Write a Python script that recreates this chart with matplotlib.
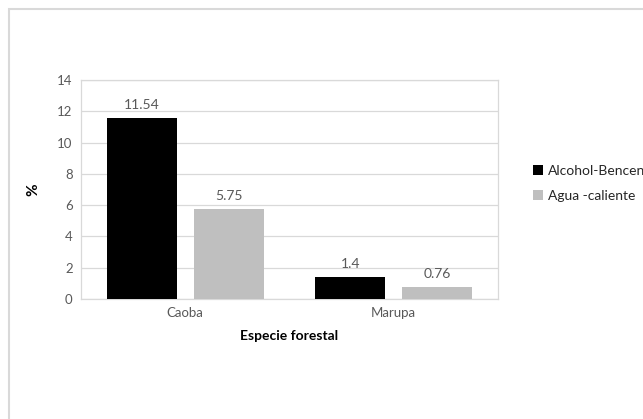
import numpy as np
import matplotlib
matplotlib.use("Agg")
import matplotlib.pyplot as plt
from matplotlib.patches import Rectangle

# data
especies = ["Caoba", "Marupa"]
series = ["Alcohol-Bencene", "Agua -caliente"]
alcohol_benceno = [11.54, 1.4]
agua_caliente = [5.75, 0.76]
yticks = [0, 2, 4, 6, 8, 10, 12, 14]

plt.rcParams["font.family"] = ["Lato", "DejaVu Sans"]
TXT = "#595959"
GRID = "#d9d9d9"

fig = plt.figure(figsize=(6.43, 4.19), dpi=100)
fig.patch.set_facecolor("white")
# outer chart frame (only top/left edges show in the crop)
fig.add_artist(Rectangle((9 / 643, -0.1), 1.2, (419 - 9) / 419 + 0.1,
                         transform=fig.transFigure, fill=False,
                         edgecolor=GRID, lw=1.5))

ax = fig.add_axes([81 / 643, 120 / 419, 417 / 643, 219 / 419])
x = np.arange(len(especies))
w = 0.336
off = 0.209
b1 = ax.bar(x - off, alcohol_benceno, w, color="black", label=series[0], zorder=3)
b2 = ax.bar(x + off, agua_caliente, w, color="#bfbfbf", label=series[1], zorder=3)
for bars, vals in ((b1, alcohol_benceno), (b2, agua_caliente)):
    for r, v in zip(bars, vals):
        ax.text(r.get_x() + r.get_width() / 2, v + 0.45, f"{v:g}",
                ha="center", va="bottom", fontsize=10, color=TXT)

ax.set_xlim(-0.5, 1.5)
ax.set_ylim(0, 14)
ax.set_yticks(yticks)
ax.set_xticks(x)
ax.set_xticklabels(especies)
ax.tick_params(axis="both", length=0, labelsize=9.5, colors=TXT, pad=6)
ax.grid(axis="y", color=GRID, lw=0.9, zorder=0)
for s in ax.spines.values():
    s.set_color(GRID)
    s.set_linewidth(0.9)

ax.set_xlabel("Especie forestal", fontsize=10, fontweight="bold", labelpad=8)
ax.set_ylabel("%", fontsize=11, fontweight="bold", labelpad=12)

ax.legend(loc="upper left", bbox_to_anchor=(1.055, 0.67), frameon=False,
          fontsize=10, handlelength=0.7, handleheight=0.7, handletextpad=0.35,
          labelspacing=0.95, labelcolor="#262626")

fig.savefig("out.png", dpi=100)
